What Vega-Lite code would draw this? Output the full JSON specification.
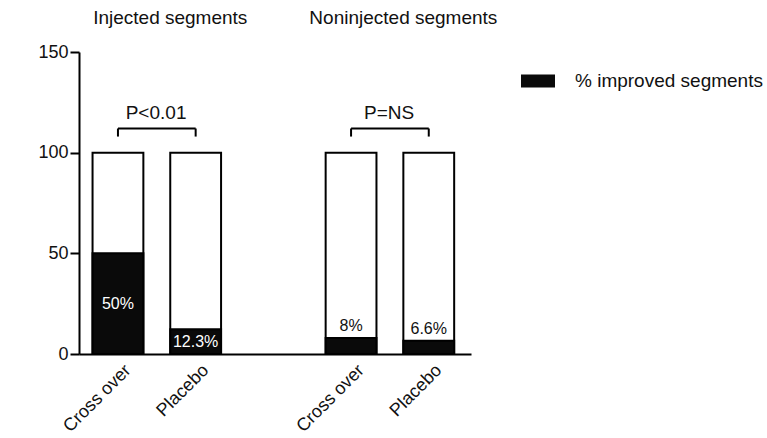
{
  "$schema": "https://vega.github.io/schema/vega-lite/v6.json",
  "width": 392,
  "height": 302,
  "autosize": {"type": "none"},
  "padding": {"left": 79, "top": 52, "right": 296, "bottom": 84},
  "background": "white",
  "config": {
    "font": "Liberation Sans",
    "view": {"stroke": null},
    "axis": {
      "domainColor": "#000",
      "domainWidth": 2,
      "tickColor": "#000",
      "tickWidth": 2,
      "labelColor": "#111",
      "labelFontSize": 18,
      "titleFontSize": 20,
      "titleFontWeight": "normal",
      "titleColor": "#111",
      "grid": false
    }
  },
  "datasets": {
    "bars": [
      {"cat": "inj_co", "value": 50, "total": 100, "text": "50%", "inside": true},
      {"cat": "inj_pl", "value": 12.3, "total": 100, "text": "12.3%", "inside": true},
      {"cat": "non_co", "value": 8, "total": 100, "text": "8%", "inside": false},
      {"cat": "non_pl", "value": 6.6, "total": 100, "text": "6.6%", "inside": false}
    ],
    "brackets": [
      {"from": "inj_co", "to": "inj_pl", "p": "P<0.01"},
      {"from": "non_co", "to": "non_pl", "p": "P=NS"}
    ],
    "titles": [
      {"at": "inj_pl", "title": "Injected segments"},
      {"at": "non_pl", "title": "Noninjected segments"}
    ]
  },
  "layer": [
    {
      "data": {"name": "bars"},
      "mark": {"type": "bar", "fill": "white", "stroke": "#000", "strokeWidth": 2},
      "encoding": {
        "x": {
          "field": "cat", "type": "nominal",
          "scale": {"domain": ["inj_co", "inj_pl", "gap", "non_co", "non_pl"], "paddingInner": 0.346, "paddingOuter": 0.1955, "align": 0.446},
          "axis": {
            "title": null, "ticks": false, "labelAngle": -45, "labelAlign": "right", "labelBaseline": "top", "labelPadding": 7, "labelOffset": 4, "labelFontSize": 18,
            "labelExpr": "datum.value == 'gap' ? '' : (indexof(datum.value, '_co') > 0 ? 'Cross over' : 'Placebo')"
          }
        },
        "y": {
          "field": "total", "type": "quantitative",
          "scale": {"domain": [0, 150], "nice": false},
          "axis": {"values": [0, 50, 100, 150], "tickSize": 9, "labelPadding": 2, "title": "% of segments", "titlePadding": 9}
        }
      }
    },
    {
      "data": {"name": "bars"},
      "mark": {"type": "bar", "stroke": "#000", "strokeWidth": 2},
      "encoding": {
        "x": {"field": "cat", "type": "nominal", "scale": {"domain": ["inj_co", "inj_pl", "gap", "non_co", "non_pl"], "paddingInner": 0.346, "paddingOuter": 0.1955, "align": 0.446}, "title": null},
        "y": {"field": "value", "type": "quantitative", "scale": {"domain": [0, 150], "nice": false}, "title": null},
        "color": {
          "datum": "% improved segments", "type": "nominal",
          "scale": {"range": ["#0a0a0a"]},
          "legend": {
            "title": null, "orient": "none", "legendX": 442, "legendY": 12,
            "symbolType": "M-1,-0.38L1,-0.38L1,0.38L-1,0.38Z", "symbolSize": 1156, "symbolStrokeWidth": 0,
            "labelFontSize": 19, "labelOffset": 20, "labelColor": "#111", "labelLimit": 0, "padding": 0
          }
        }
      }
    },
    {
      "data": {"name": "bars"},
      "transform": [{"filter": "datum.inside"}, {"calculate": "datum.value / 2", "as": "mid"}],
      "mark": {"type": "text", "fill": "white", "fontSize": 16, "baseline": "middle"},
      "encoding": {
        "x": {"field": "cat", "type": "nominal", "scale": {"domain": ["inj_co", "inj_pl", "gap", "non_co", "non_pl"], "paddingInner": 0.346, "paddingOuter": 0.1955, "align": 0.446}, "title": null},
        "y": {"field": "mid", "type": "quantitative", "scale": {"domain": [0, 150], "nice": false}, "title": null},
        "text": {"field": "text"}
      }
    },
    {
      "data": {"name": "bars"},
      "transform": [{"filter": "!datum.inside"}],
      "mark": {"type": "text", "fill": "#111", "fontSize": 16, "baseline": "bottom", "dy": -4},
      "encoding": {
        "x": {"field": "cat", "type": "nominal", "scale": {"domain": ["inj_co", "inj_pl", "gap", "non_co", "non_pl"], "paddingInner": 0.346, "paddingOuter": 0.1955, "align": 0.446}, "title": null},
        "y": {"field": "value", "type": "quantitative", "scale": {"domain": [0, 150], "nice": false}, "title": null},
        "text": {"field": "text"}
      }
    },
    {
      "data": {"name": "brackets"},
      "mark": {"type": "rule", "color": "#000", "strokeWidth": 2},
      "encoding": {
        "x": {"field": "from", "type": "nominal", "scale": {"domain": ["inj_co", "inj_pl", "gap", "non_co", "non_pl"], "paddingInner": 0.346, "paddingOuter": 0.1955, "align": 0.446}, "title": null},
        "x2": {"field": "to"},
        "y": {"datum": 112, "type": "quantitative"}
      }
    },
    {
      "data": {"name": "brackets"},
      "transform": [{"fold": ["from", "to"], "as": ["end", "pos"]}],
      "mark": {"type": "rule", "color": "#000", "strokeWidth": 2},
      "encoding": {
        "x": {"field": "pos", "type": "nominal", "scale": {"domain": ["inj_co", "inj_pl", "gap", "non_co", "non_pl"], "paddingInner": 0.346, "paddingOuter": 0.1955, "align": 0.446}, "title": null},
        "y": {"datum": 108, "type": "quantitative"},
        "y2": {"datum": 112}
      }
    },
    {
      "data": {"name": "brackets"},
      "mark": {"type": "text", "fill": "#111", "fontSize": 19, "baseline": "middle", "align": "center"},
      "encoding": {
        "x": {"field": "from", "type": "nominal", "bandPosition": 1.25, "scale": {"domain": ["inj_co", "inj_pl", "gap", "non_co", "non_pl"], "paddingInner": 0.346, "paddingOuter": 0.1955, "align": 0.446}, "title": null},
        "y": {"datum": 119.5, "type": "quantitative"},
        "text": {"field": "p"}
      }
    },
    {
      "data": {"name": "titles"},
      "mark": {"type": "text", "fill": "#111", "fontSize": 19, "baseline": "middle", "align": "center"},
      "encoding": {
        "x": {"field": "at", "type": "nominal", "bandPosition": 0, "scale": {"domain": ["inj_co", "inj_pl", "gap", "non_co", "non_pl"], "paddingInner": 0.346, "paddingOuter": 0.1955, "align": 0.446}, "title": null},
        "y": {"datum": 167, "type": "quantitative"},
        "text": {"field": "title"}
      }
    }
  ]
}
